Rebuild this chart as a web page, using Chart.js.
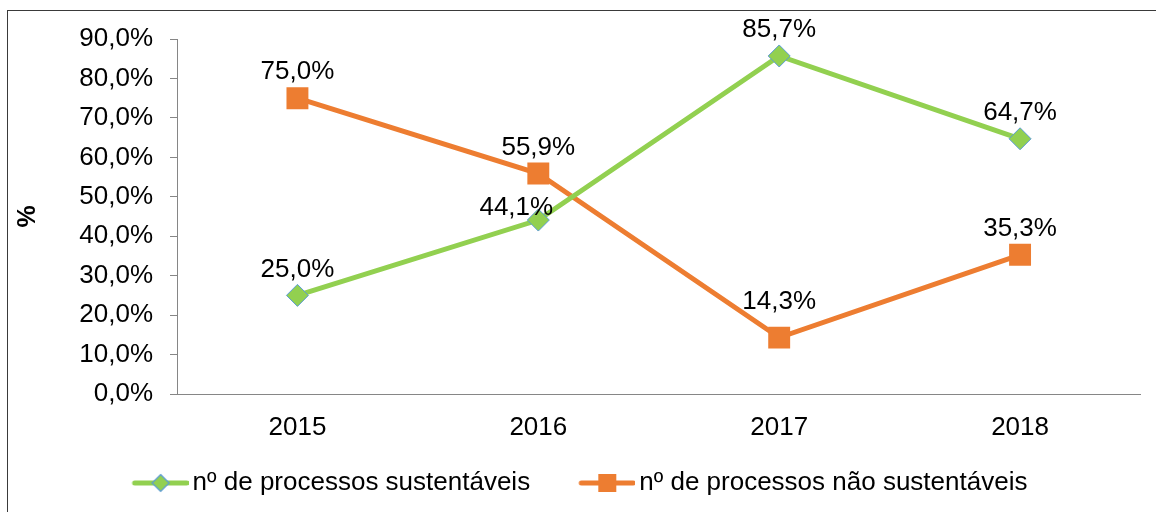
<!DOCTYPE html>
<html>
<head>
<meta charset="utf-8">
<script src="https://cdn.jsdelivr.net/npm/chart.js@4"></script>
<style>
  html, body { margin: 0; padding: 0; background: #fff; overflow: hidden; }
  #frame { position: absolute; left: 7px; top: 10px; width: 1300px; height: 700px; border: 1px solid #3a3a3a; }
  #wrap { position: absolute; left: 0; top: 0; width: 1156px; height: 512px; }
</style>
</head>
<body>
<div id="frame"></div>
<div id="wrap"><canvas id="myChart" width="1156" height="512"></canvas></div>
<script>
var years = ['2015', '2016', '2017', '2018'];
var sustentaveis = [25.0, 44.1, 85.7, 64.7];
var naoSustentaveis = [75.0, 55.9, 14.3, 35.3];
var seriesNames = ['nº de processos sustentáveis', 'nº de processos não sustentáveis'];
var yTicks = [0, 10, 20, 30, 40, 50, 60, 70, 80, 90];

var GREEN = '#92D050';
var ORANGE = '#ED7D31';
var FONT = '"Liberation Sans", Arial, sans-serif';

function pct(v) {
  return v.toFixed(1).replace('.', ',') + '%';
}

// legend picture: line with the marker in the middle
// box is 47 wide, picture is 65 so the line runs from the box start to +56
function legendIcon(color, kind) {
  var c = document.createElement('canvas');
  c.width = 65; c.height = 26;
  var g = c.getContext('2d');
  g.strokeStyle = color;
  g.lineWidth = 5;
  g.lineCap = 'round';
  g.beginPath(); g.moveTo(11, 13); g.lineTo(63, 13); g.stroke();
  if (kind == 'diamond') {
    g.fillStyle = GREEN;
    g.strokeStyle = '#5B9BD5';
    g.lineWidth = 1.2;
    g.beginPath();
    g.moveTo(37, 4.5); g.lineTo(45.5, 13); g.lineTo(37, 21.5); g.lineTo(28.5, 13); g.closePath();
    g.fill(); g.stroke();
  } else {
    g.fillStyle = ORANGE;
    g.fillRect(28, 4, 18, 18);
  }
  return c;
}

// data labels above the points
var labelOffsets = {
  '0-1': [-22, 14],
  '1-2': [0, -10]
};
var valueLabels = {
  id: 'valueLabels',
  afterDatasetsDraw: function(chart) {
    var ctx = chart.ctx;
    ctx.save();
    ctx.font = '26px ' + FONT;
    ctx.fillStyle = '#000';
    ctx.textAlign = 'center';
    ctx.textBaseline = 'middle';
    chart.data.datasets.forEach(function(ds, di) {
      chart.getDatasetMeta(di).data.forEach(function(pt, i) {
        var off = labelOffsets[di + '-' + i] || [0, 0];
        ctx.fillText(pct(ds.data[i]), pt.x + off[0], pt.y - 26 + off[1]);
      });
    });
    ctx.restore();
  }
};

Chart.defaults.font.family = FONT;
Chart.defaults.color = '#000';

var ctx = document.getElementById('myChart').getContext('2d');
var myChart = new Chart(ctx, {
  type: 'line',
  data: {
    labels: years,
    datasets: [
      {
        label: seriesNames[0],
        data: sustentaveis,
        borderColor: GREEN,
        borderWidth: 5,
        pointStyle: 'rectRot',
        pointRadius: 11,
        pointHoverRadius: 11,
        pointBackgroundColor: GREEN,
        pointBorderColor: '#5B9BD5',
        pointBorderWidth: 1,
        tension: 0
      },
      {
        label: seriesNames[1],
        data: naoSustentaveis,
        borderColor: ORANGE,
        borderWidth: 5,
        pointStyle: 'rect',
        pointRadius: 15.5,
        pointHoverRadius: 15.5,
        pointBackgroundColor: ORANGE,
        pointBorderColor: ORANGE,
        pointBorderWidth: 0,
        tension: 0
      }
    ]
  },
  options: {
    responsive: false,
    animation: false,
    events: [],
    layout: { padding: { left: 19, right: 15, top: 39, bottom: 6 } },
    scales: {
      x: {
        offset: true,
        grid: { drawOnChartArea: false, drawTicks: false },
        border: { color: '#868686', width: 1 },
        ticks: { font: { size: 26 }, padding: 18 },
        afterFit: function(s) { s.height = 63; }
      },
      y: {
        min: 0,
        max: 90,
        afterBuildTicks: function(s) { s.ticks = yTicks.map(function(v) { return { value: v }; }); },
        grid: { drawOnChartArea: false, drawTicks: true, tickLength: 7, color: '#868686' },
        border: { color: '#868686', width: 1 },
        ticks: { font: { size: 26 }, padding: 17, callback: function(v) { return pct(v); } },
        title: { display: true, text: '%', font: { size: 25, weight: 'bold' }, padding: { top: -6, bottom: 6 } },
        afterFit: function(s) { s.width = 158; }
      }
    },
    plugins: {
      legend: {
        position: 'bottom',
        labels: {
          font: { size: 26 },
          padding: 13,
          usePointStyle: true,
          pointStyleWidth: 47,
          generateLabels: function(chart) {
            return chart.data.datasets.map(function(ds, i) {
              return {
                // trailing spaces widen the gap between the two entries
                text: i == 0 ? ds.label + '     ' : ds.label,
                pointStyle: legendIcon(ds.borderColor, i == 0 ? 'diamond' : 'square'),
                fillStyle: ds.borderColor,
                strokeStyle: ds.borderColor,
                lineWidth: 0,
                hidden: false,
                datasetIndex: i,
                fontColor: '#000'
              };
            });
          }
        }
      },
      tooltip: { enabled: false }
    }
  },
  plugins: [valueLabels]
});
</script>
</body>
</html>
